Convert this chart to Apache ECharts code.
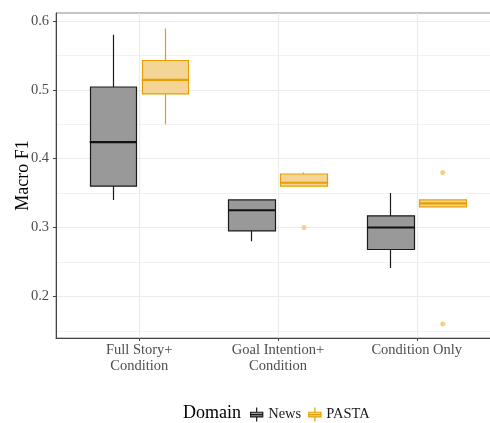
<!DOCTYPE html>
<html><head><meta charset="utf-8">
<script src="https://cdn.jsdelivr.net/npm/echarts@6/dist/echarts.min.js"></script>
<style>html,body{margin:0;padding:0;background:#fff}#c{width:490px;height:423px}</style>
</head><body><div id="c"></div>
<script>
const categories = ['Full Story+\nCondition', 'Goal Intention+\nCondition', 'Condition Only'];
const newsMin    = [0.340, 0.280, 0.241];
const newsQ1     = [0.360, 0.295, 0.268];
const newsMedian = [0.424, 0.325, 0.300];
const newsQ3     = [0.504, 0.340, 0.317];
const newsMax    = [0.580, 0.341, 0.350];
const pastaMin    = [0.450, 0.360, 0.330];
const pastaQ1     = [0.494, 0.360, 0.330];
const pastaMedian = [0.5145, 0.365, 0.335];
const pastaQ3     = [0.5425, 0.3777, 0.340];
const pastaMax    = [0.589, 0.380, 0.340];
const pastaOutlierCat = [1, 2, 2];
const pastaOutlierVal = [0.30, 0.38, 0.16];
const yTicks = [0.2, 0.3, 0.4, 0.5, 0.6];
const yMinorTicks = [0.15, 0.25, 0.35, 0.45, 0.55];
const yLimits = [0.1395, 0.6115];
const seriesNames = ['News', 'PASTA'];

const FONT = '"Liberation Serif", "DejaVu Serif", serif';
const PLOT_LEFT = 56, PLOT_TOP = 13, PLOT_W = 444, PLOT_H = 325;
const BAND = PLOT_W / 3.2;            // discrete expansion of 0.6 band on each side
const CAT_LEFT = PLOT_LEFT + 0.1 * BAND;
const CAT_W = BAND * 3;
const DODGE = 26, BOX_W = 47;
const BOX_ICON = 'path://M0,5L13,5L13,10L0,10Z M0,7.5L13,7.5 M6.5,0L6.5,5 M6.5,10L6.5,15';
const NEWS_STYLE = {fill: '#999999', line: '#1a1a1a'};
const PASTA_STYLE = {fill: '#F5D596', line: '#E69F00'};

const chart = echarts.init(document.getElementById('c'), null, {renderer: 'canvas'});

function hiddenX(gridIndex) {
  return {type: 'category', gridIndex, data: categories, show: false, boundaryGap: true};
}
function hiddenY(gridIndex) {
  return {type: 'value', gridIndex, min: yLimits[0], max: yLimits[1], show: false, splitLine: {show: false}};
}
function gridAt(left, extra) {
  return Object.assign({left, top: PLOT_TOP, width: CAT_W, height: PLOT_H, containLabel: false, outerBoundsMode: 'none'}, extra || {});
}

const newsBox = categories.map((c, i) => [newsQ1[i], newsQ3[i], newsMin[i], newsMax[i]]);
const pastaBox = categories.map((c, i) => [pastaQ1[i], pastaQ3[i], pastaMin[i], pastaMax[i]]);

const option = {
  animation: false,
  backgroundColor: '#ffffff',
  title: {
    text: 'Domain', left: 183, top: 404, padding: 0,
    textStyle: {fontFamily: FONT, fontSize: 18, fontWeight: 'normal', color: '#000'}
  },
  legend: {
    data: [
      {name: seriesNames[0], icon: BOX_ICON, itemStyle: {color: NEWS_STYLE.fill, borderColor: NEWS_STYLE.line, borderWidth: 1.2}},
      {name: seriesNames[1], icon: BOX_ICON, itemStyle: {color: PASTA_STYLE.fill, borderColor: PASTA_STYLE.line, borderWidth: 1.2}}
    ],
    left: 250, top: 407, padding: 0, itemGap: 7, itemWidth: 13, itemHeight: 14,
    selectedMode: false,
    textStyle: {fontFamily: FONT, fontSize: 14.5, color: '#1a1a1a'}
  },
  grid: [
    gridAt(PLOT_LEFT, {width: PLOT_W, show: true, borderColor: '#8a8a8a', borderWidth: 1, backgroundColor: 'transparent'}),
    gridAt(CAT_LEFT),
    gridAt(CAT_LEFT - DODGE),
    gridAt(CAT_LEFT + DODGE)
  ],
  xAxis: [
    {type: 'value', gridIndex: 0, min: 0, max: 1, axisLine: {show: true, onZero: false, lineStyle: {color: '#444', width: 1}},
     axisTick: {show: false}, axisLabel: {show: false}, splitLine: {show: false}},
    {type: 'category', gridIndex: 1, data: categories, boundaryGap: true,
     axisLine: {show: false}, axisTick: {show: true, alignWithLabel: true, length: 3, lineStyle: {color: '#444'}},
     axisLabel: {fontFamily: FONT, fontSize: 14.5, color: '#4d4d4d', margin: 4, lineHeight: 16, interval: 0},
     splitLine: {show: false}},
    hiddenX(2), hiddenX(3)
  ],
  yAxis: [
    {type: 'value', gridIndex: 0, min: yLimits[0], max: yLimits[1],
     axisLine: {show: true, onZero: false, lineStyle: {color: '#444', width: 1}},
     axisTick: {show: true, length: 3, customValues: yTicks, lineStyle: {color: '#444'}},
     axisLabel: {customValues: yTicks, formatter: v => v.toFixed(1), fontFamily: FONT, fontSize: 14.5, color: '#4d4d4d', margin: 7},
     splitLine: {show: false},
     name: 'Macro F1', nameLocation: 'middle', nameGap: 24, nameMoveOverlap: false,
     nameTextStyle: {fontFamily: FONT, fontSize: 18, color: '#000'}},
    hiddenY(1), hiddenY(2), hiddenY(3)
  ],
  series: [
    {type: 'line', name: 'hgrid', xAxisIndex: 0, yAxisIndex: 0, z: 0, silent: true, symbol: 'none',
     data: [[0.5, yLimits[0]]],
     markLine: {z: 0, silent: true, symbol: ['none', 'none'], label: {show: false}, animation: false,
       data: yMinorTicks.map(v => ({yAxis: v, lineStyle: {color: '#f1f1f1', width: 1, type: 'solid'}}))
         .concat(yTicks.map(v => ({yAxis: v, lineStyle: {color: '#ebebeb', width: 1.2, type: 'solid'}})))}},
    {type: 'line', name: 'vgrid', xAxisIndex: 1, yAxisIndex: 1, z: 0, silent: true, symbol: 'none',
     data: [[categories[0], yLimits[0]]],
     markLine: {z: 0, silent: true, symbol: ['none', 'none'], label: {show: false}, animation: false,
       data: categories.map((c, i) => ({xAxis: i, lineStyle: {color: '#ebebeb', width: 1.2, type: 'solid'}}))}},
    {type: 'candlestick', name: 'News', xAxisIndex: 2, yAxisIndex: 2, z: 3, barWidth: BOX_W,
     data: newsBox,
     itemStyle: {color: NEWS_STYLE.fill, color0: NEWS_STYLE.fill, borderColor: NEWS_STYLE.line, borderColor0: NEWS_STYLE.line, borderColorDoji: NEWS_STYLE.line, borderWidth: 1.2}},
    {type: 'scatter', name: 'News median', xAxisIndex: 2, yAxisIndex: 2, z: 4, symbol: 'rect', symbolSize: [BOX_W, 2.2],
     data: categories.map((c, i) => [c, newsMedian[i]]), itemStyle: {color: '#111', opacity: 1}},
    {type: 'candlestick', name: 'PASTA', xAxisIndex: 3, yAxisIndex: 3, z: 3, barWidth: BOX_W,
     data: pastaBox,
     itemStyle: {color: PASTA_STYLE.fill, color0: PASTA_STYLE.fill, borderColor: PASTA_STYLE.line, borderColor0: PASTA_STYLE.line, borderColorDoji: PASTA_STYLE.line, borderWidth: 1.2}},
    {type: 'scatter', name: 'PASTA median', xAxisIndex: 3, yAxisIndex: 3, z: 4, symbol: 'rect', symbolSize: [BOX_W, 2.2],
     data: categories.map((c, i) => [c, pastaMedian[i]]), itemStyle: {color: PASTA_STYLE.line, opacity: 1}},
    {type: 'scatter', name: 'PASTA outliers', xAxisIndex: 3, yAxisIndex: 3, z: 4, symbol: 'circle', symbolSize: 5,
     data: pastaOutlierCat.map((ci, i) => [categories[ci], pastaOutlierVal[i]]), itemStyle: {color: '#F4D08C', opacity: 1}}
  ]
};
chart.setOption(option);
</script>
</body></html>
